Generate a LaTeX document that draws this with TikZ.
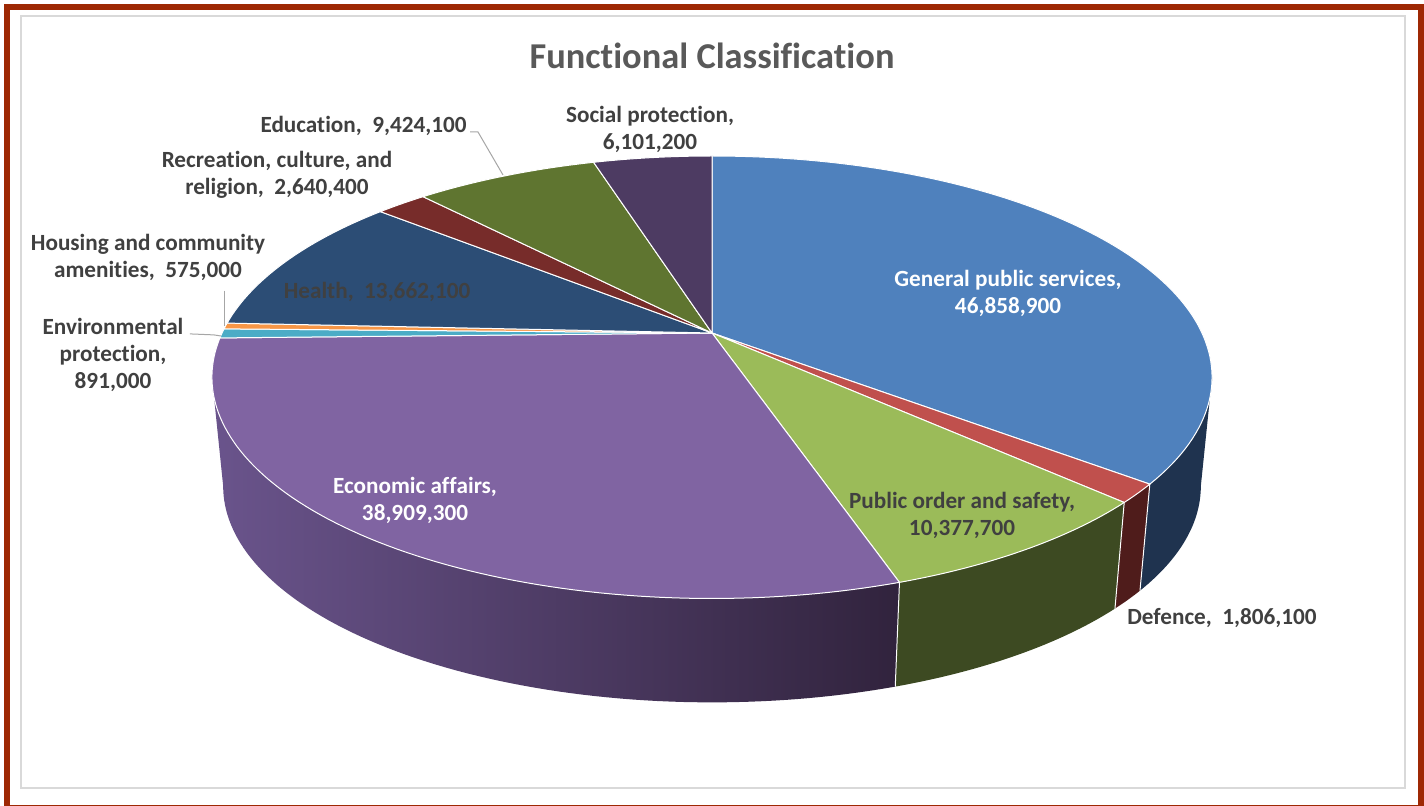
\documentclass[tikz,border=0pt]{standalone}
\usepackage{fontspec}
\setmainfont{Carlito}[Ligatures=CommonOff]
\newcommand\zk{\kern0pt }
\definecolor{framered}{RGB}{158,40,4}
\definecolor{innergray}{HTML}{D9D9D9}
\definecolor{titlegray}{HTML}{595959}
\definecolor{labelgray}{HTML}{404040}
\definecolor{leadergray}{HTML}{A6A6A6}
\definecolor{cGPS}{HTML}{4F81BD}
\definecolor{cGPSside}{HTML}{1F334F}
\definecolor{cDef}{HTML}{C0504D}
\definecolor{cDefside}{HTML}{4F1C1B}
\definecolor{cPO}{HTML}{9BBB59}
\definecolor{cPOside}{HTML}{3D4A22}
\definecolor{cEco}{HTML}{8064A2}
\definecolor{cEcoL}{HTML}{6A548C}
\definecolor{cEcoR}{HTML}{31233D}
\definecolor{cEnv}{HTML}{4BACC6}
\definecolor{cHou}{HTML}{F79646}
\definecolor{cHea}{HTML}{2C4D75}
\definecolor{cRec}{HTML}{772C2A}
\definecolor{cEdu}{HTML}{5F7530}
\definecolor{cSoc}{HTML}{4D3B62}
\begin{document}
\begin{tikzpicture}[x=0.5pt,y=-0.5pt,
  declare function={
    tx(\t)=712+490*cos(\t)/(1+0.2*sin(\t));
    ty(\t)=333-212.4*sin(\t)/(1+0.2*sin(\t));
    bx(\t)=712+479*cos(\t)/(1+0.2*sin(\t));
    by(\t)=443-207.5*sin(\t)/(1+0.2*sin(\t));
  },
  edge/.style={draw=white, line width=0.5pt, line join=round},
  lbl/.style={font=\fontsize{11.6}{13.5}\selectfont\bfseries, text=labelgray, align=center, inner sep=0pt},
  wlbl/.style={lbl, text=white},
  ttl/.style={font=\fontsize{18.2}{20}\selectfont\bfseries, text=titlegray, inner sep=0pt},
  leader/.style={draw=leadergray, line width=0.5pt},
]
\useasboundingbox (0,0) rectangle (1424,806);
\fill[white] (0,0) rectangle (1424,806);
% frames
\draw[innergray, line width=0.8pt] (21,16) rectangle (1405,788);
\begin{scope}
\clip (0,0) rectangle (1424,806);
\draw[framered, line width=3pt] (7,7) rectangle (1421,808);
\end{scope}

% side faces
\fill[cGPSside] plot[domain=-11.54:-38.532, samples=30] ({tx(\x)},{ty(\x)})
  -- plot[domain=-38.532:-11.54, samples=30] ({bx(\x)},{by(\x)}) -- cycle;
\fill[cDefside] plot[domain=-38.532:-43.486, samples=6] ({tx(\x)},{ty(\x)})
  -- plot[domain=-43.486:-38.532, samples=6] ({bx(\x)},{by(\x)}) -- cycle;
\fill[cPOside] plot[domain=-43.486:-71.951, samples=30] ({tx(\x)},{ty(\x)})
  -- plot[domain=-71.951:-43.486, samples=30] ({bx(\x)},{by(\x)}) -- cycle;
\shade[left color=cEcoL, right color=cEcoR] plot[domain=-71.951:-168.46, samples=80] ({tx(\x)},{ty(\x)})
  -- plot[domain=-168.46:-71.951, samples=80] ({bx(\x)},{by(\x)}) -- cycle;
\foreach \a in {-38.532,-43.486,-71.951}
  \draw[edge] ({tx(\a)},{ty(\a)}) -- ({bx(\a)},{by(\a)});

% top faces
\filldraw[fill=cGPS, edge] (712,333) -- plot[domain=90:-38.532, samples=100] ({tx(\x)},{ty(\x)}) -- cycle;
\filldraw[fill=cDef, edge] (712,333) -- plot[domain=-38.532:-43.486, samples=6] ({tx(\x)},{ty(\x)}) -- cycle;
\filldraw[fill=cPO, edge] (712,333) -- plot[domain=-43.486:-71.951, samples=30] ({tx(\x)},{ty(\x)}) -- cycle;
\filldraw[fill=cEco, edge] (712,333) -- plot[domain=-71.951:-178.677, samples=90] ({tx(\x)},{ty(\x)}) -- cycle;
\filldraw[fill=cEnv, edge] (712,333) -- plot[domain=-178.677:-181.121, samples=4] ({tx(\x)},{ty(\x)}) -- cycle;
\filldraw[fill=cHou, edge] (712,333) -- plot[domain=-181.121:-182.699, samples=4] ({tx(\x)},{ty(\x)}) -- cycle;
\filldraw[fill=cHea, edge] (712,333) -- plot[domain=-182.699:-220.173, samples=40] ({tx(\x)},{ty(\x)}) -- cycle;
\filldraw[fill=cRec, edge] (712,333) -- plot[domain=-220.173:-227.416, samples=8] ({tx(\x)},{ty(\x)}) -- cycle;
\filldraw[fill=cEdu, edge] (712,333) -- plot[domain=-227.416:-253.266, samples=30] ({tx(\x)},{ty(\x)}) -- cycle;
\filldraw[fill=cSoc, edge] (712,333) -- plot[domain=-253.266:-270, samples=20] ({tx(\x)},{ty(\x)}) -- cycle;

% labels
\node[ttl] (title) at (712,56) {Funct\zk ional Classif\zk icat\zk ion};
\node[lbl] (soc) at (650,129) {Social protect\zk ion,\\6,101,200};
\node[lbl, anchor=east] (edu) at (467,126) {Educat\zk ion,~~9,424,100};
\node[lbl] (rec) at (277,175) {Recreat\zk ion, culture, and\\religion,~~2,640,400};
\node[lbl] (hou) at (148,257) {Housing and community\\ameni\zk t\zk ies,~~575,000};
\node[lbl] (env) at (113,355) {Environmental\\protect\zk ion,\\891,000};
\node[lbl] (hea) at (377,292) {Health,~~13,662,100};
\node[wlbl] (gps) at (1008,293) {General public services,\\46,858,900};
\node[wlbl] (eco) at (415,500) {Economic af\zk f\zk airs,\\38,909,300};
\node[lbl] (po) at (962,515) {Public order and safety,\\10,377,700};
\node[lbl] (def) at (1222,618) {Defence,~~1,806,100};

% leader lines
\coordinate (eduP) at (503,175);
\coordinate (houP) at (224,326);
\coordinate (envP) at (221,336);
\draw[leader] (edu.east) ++(3,6) -- ++(8,0) -- (eduP);
\draw[leader] (houP |- hou.south) ++(0,10) -- (houP);
\draw[leader] (env.north east) ++(6,16) -- ++(24,1) -- (envP);
\end{tikzpicture}
\end{document}
